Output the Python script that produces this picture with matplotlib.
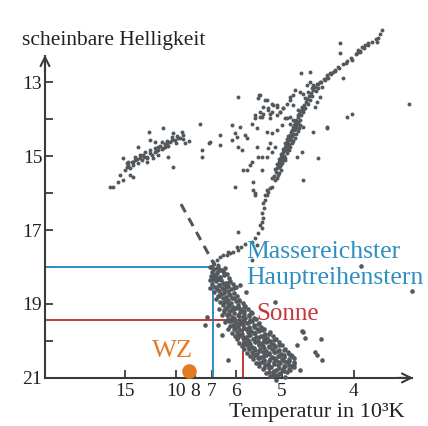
import numpy as np
import matplotlib
matplotlib.use("Agg")
import matplotlib.pyplot as plt

plt.rcParams['font.family'] = ['Liberation Serif', 'DejaVu Serif']

# temperature axis (10^3 K) and the position of each tick along the axis
temp_labels = ['15', '10', '8', '7', '6', '5', '4']
temp_pos = [125, 176, 195, 212, 236, 282, 354]
mag_ticks = [13, 14, 15, 16, 17, 18, 19, 20, 21]

# horizontal branch
hb_x = [162.7, 149.3, 200, 173.3, 181.7, 182.7, 178.3, 189.3, 185, 150, 155, 161.7, 166.7, 171.7,
        138.3, 158.3, 165, 155, 150, 146.7, 143.3, 140, 135, 131.7, 128.3, 123.3, 133.3, 126.7,
        125, 120, 123.3, 118.3, 113.3, 110, 133.3, 130, 168.3, 173.3, 153.3, 201.7, 201.7, 209.3,
        146.7, 138.3, 158.3, 135, 140, 145, 150, 155, 160, 165, 170, 175, 180, 158, 163, 168,
        147, 142, 152, 133, 128, 177, 172, 137, 144, 156, 162, 167, 176, 183, 130, 127]
hb_mag = [14.25, 14.34, 14.14, 14.37, 14.34, 14.43, 14.52, 14.59, 14.64, 14.57, 14.61, 14.61, 14.66, 14.57,
          14.75, 14.75, 14.75, 14.88, 14.93, 15.02, 14.97, 15.06, 15.11, 15.15, 15.15, 15.06, 15.24, 15.29,
          15.38, 15.51, 15.65, 15.69, 15.83, 15.83, 15.56, 15.51, 15.02, 15.29, 15.06, 14.84, 15.02, 14.64,
          15.15, 15.20, 14.97, 15.03, 14.97, 14.89, 14.84, 14.78, 14.73, 14.68, 14.62, 14.57, 14.51, 14.84, 14.78, 14.73,
          15.05, 15.11, 14.97, 15.16, 15.24, 14.46, 14.49, 15.08, 15.03, 14.86, 14.81, 14.59, 14.65, 14.54, 15.32, 15.19]

# red giant branch, scattered part
rgb_x = [381.7, 376.7, 378.3, 368.3, 365, 361.7, 358.3, 360, 356.7, 340, 340, 351.7, 346, 338.3, 335, 332.7,
         330, 326.7, 328.3, 325, 343.3, 310, 300.7, 320, 316.7, 313.3, 321.7, 318.3, 310, 306.7, 311.7,
         308.3, 303.3, 300, 295, 293.3, 290, 305, 310, 308.3, 316.7, 315, 320, 301.7, 303.3, 298.3, 293.3,
         290, 286.7, 283.3, 280, 276.7, 273.3, 276.7, 271.7, 268.3, 265, 259.3, 263.3, 260, 255, 270,
         346.7, 351.7, 303.3, 326.7, 298.3, 300, 296.7, 293.3, 290, 286.7,
         238.3, 260, 258.3, 266.7, 271.7, 276.7, 263.3, 268.3, 270, 260, 261.7, 255, 280, 283.3, 231.7,
         240, 251.7, 256.7, 266.7, 271.7, 276.7, 281.7, 285, 290, 220, 235, 236.7, 245, 246.7, 231.7,
         210, 220, 238.3, 241.7, 270, 268.3, 275, 256.7, 258.3, 261.7, 266.7, 271.7, 296.7, 301.7,
         313.3, 326.7, 318.3, 243.3, 246.7, 250, 251.7, 261.7, 271.7, 303.3, 235, 253.3, 266.7, 270,
         255, 265, 409]
rgb_mag = [11.59, 11.91, 11.81, 11.95, 12.00, 12.05, 12.14, 12.18, 12.22, 11.95, 12.22, 12.41, 12.49, 12.59, 12.68, 12.72,
           12.76, 12.81, 12.90, 12.95, 12.90, 12.72, 12.76, 12.99, 13.04, 13.08, 13.13, 13.17, 12.99, 13.08, 13.17,
           13.26, 13.31, 13.26, 13.22, 13.35, 13.40, 13.44, 13.49, 13.58, 13.53, 13.67, 13.40, 13.67, 13.76, 13.76, 13.62,
           13.49, 13.58, 13.71, 13.80, 13.89, 13.62, 13.67, 13.80, 13.71, 13.49, 13.35, 13.85, 13.94, 13.98, 13.98,
           13.94, 13.85, 14.21, 14.21, 13.89, 14.03, 14.12, 14.03, 14.12, 13.98,
           13.40, 13.35, 13.44, 13.49, 13.58, 13.62, 13.67, 13.76, 13.85, 13.80, 13.94, 13.89, 13.80, 13.71, 14.16,
           14.21, 14.12, 14.25, 14.34, 14.39, 14.30, 14.16, 13.98, 13.94, 14.43, 14.39, 14.49, 14.43, 14.52, 14.57,
           14.61, 14.70, 14.75, 14.84, 14.66, 14.79, 14.75, 14.75, 15.02, 15.02, 15.02, 14.88, 15.02, 14.88,
           14.34, 14.25, 15.06, 15.38, 15.38, 15.24, 15.15, 15.38, 15.60, 15.65, 15.83, 15.92, 15.92, 15.87,
           16.05, 16.05, 13.59]

# red giant branch, dense ridge
ridge_x = [276, 277, 278, 279, 280, 281, 282, 283, 284, 285, 286, 287, 288, 289, 290, 291, 292, 293, 294, 295,
           296, 298, 299, 300, 302, 304, 306, 307, 309, 311, 313, 315, 318, 321, 324, 327, 331, 335, 339, 343,
           347, 351, 356, 360, 364, 368, 372, 376, 380,
           278, 274, 280, 283, 286, 288, 290, 293, 296, 298, 281, 285, 279, 277, 275, 282, 287, 291, 294,
           284, 289, 292, 295, 297, 301, 303, 305, 312, 316,
           279, 281, 283, 285, 287, 289, 290, 292, 293, 295, 296, 298, 299, 300,
           275, 277, 279, 281, 283, 285, 287, 288]
ridge_mag = [15.43, 15.32, 15.24, 15.16, 15.11, 15.03, 14.97, 14.89, 14.84, 14.76, 14.70, 14.62, 14.57, 14.49, 14.43,
             14.35, 14.30, 14.22, 14.16, 14.08, 14.03, 13.95, 13.86, 13.78, 13.70, 13.62, 13.54, 13.46, 13.38, 13.30,
             13.22, 13.14, 13.05, 13.00, 12.92, 12.86, 12.78, 12.70, 12.62, 12.51, 12.43, 12.35, 12.24, 12.16, 12.08,
             12.00, 11.92, 11.84, 11.70,
             15.51, 15.54, 15.27, 15.05, 14.84, 14.70, 14.51, 14.41, 14.22, 14.08, 15.38, 15.11, 15.46, 15.59, 15.65,
             15.19, 14.78, 14.57, 14.30,
             15.00, 14.68, 14.46, 14.27, 14.14, 13.89, 13.81, 13.70, 13.38, 13.24,
             15.30, 15.22, 15.12, 15.04, 14.93, 14.83, 14.75, 14.66, 14.58, 14.50, 14.40, 14.33, 14.25, 14.16,
             15.35, 15.22, 15.08, 14.95, 14.80, 14.66, 14.55, 14.45]

# subgiant branch and turn-off
sgb_x = [253.3, 255, 266.7, 268.3, 271.7, 263.3, 261.7, 262.7, 260, 261.7, 238.3, 255, 251.7, 256.7, 236.7,
         238.3, 233.3, 230, 226.7, 223.3, 220, 216.7, 213.3, 218.3, 211.7, 216.7, 213.3, 220, 215, 221.7, 251.7,
         264, 265, 262, 258, 245, 241, 228, 214, 212, 217]
sgb_mag = [15.69, 16.01, 16.05, 15.96, 15.83, 16.28, 16.55, 16.68, 16.86, 16.95, 17.05, 17.22, 17.32, 17.41, 17.45,
           17.54, 17.59, 17.63, 17.68, 17.68, 17.72, 17.81, 17.86, 17.95, 18.04, 18.13, 18.22, 18.26, 18.31, 18.08, 17.81,
           16.41, 16.19, 16.78, 17.08, 17.38, 17.46, 17.59, 17.92, 17.97, 18.03]

# main sequence
ms_x = [210, 214, 218, 221, 225, 212, 217, 223, 227, 211, 215, 220, 224, 229, 213, 218,
        216, 221, 226, 230, 212, 219, 223, 228, 233, 215, 217, 222, 226, 231, 236,
        214, 219, 224, 228, 234, 218, 221, 226, 230, 237, 216, 223, 228, 232, 239, 220, 226, 231, 236, 243,
        223, 228, 233, 238, 245, 219, 226, 231, 236, 241, 248, 224, 229, 234, 240, 244, 251,
        222, 227, 232, 238, 243, 249, 228, 234, 239, 245, 250, 256,
        225, 231, 236, 241, 247, 252, 258, 230, 233, 238, 243, 249, 254, 261,
        228, 235, 240, 246, 251, 257, 263, 232, 237, 242, 248, 255, 259, 265, 270,
        235, 240, 246, 250, 256, 261, 267, 273, 237, 243, 248, 253, 258, 264, 270, 276,
        239, 245, 250, 255, 262, 266, 272, 279, 242, 247, 252, 259, 263, 269, 275, 282,
        244, 249, 255, 260, 266, 272, 278, 285, 247, 252, 257, 263, 269, 275, 281, 288,
        250, 255, 261, 266, 272, 278, 284, 291, 253, 258, 264, 270, 276, 282, 289,
        256, 262, 268, 274, 280, 287, 294, 259, 265, 271, 278, 285, 292,
        263, 269, 276, 283, 290, 266, 273, 280, 287, 270, 277, 285,
        302, 321, 317, 322, 292, 361, 412, 272, 276, 315, 303, 207, 218, 228, 222, 238, 240, 275,
        252, 205, 210, 210, 246, 297, 305, 300]
ms_mag = [18.01, 18.06, 17.99, 18.09, 18.03, 18.13, 18.16, 18.12, 18.18, 18.24, 18.21, 18.27, 18.23, 18.30, 18.33, 18.29,
          18.39, 18.36, 18.42, 18.37, 18.45, 18.48, 18.44, 18.51, 18.46, 18.55, 18.60, 18.57, 18.53, 18.59, 18.55,
          18.68, 18.64, 18.71, 18.66, 18.70, 18.78, 18.74, 18.81, 18.76, 18.79, 18.87, 18.84, 18.90, 18.85, 18.88,
          18.96, 18.93, 18.98, 18.92, 18.97,
          19.04, 19.01, 19.07, 19.02, 19.06, 19.13, 19.11, 19.16, 19.12, 19.17, 19.14, 19.22, 19.19, 19.25, 19.21,
          19.27, 19.23, 19.31, 19.29, 19.34, 19.30, 19.35, 19.32, 19.40, 19.38, 19.43, 19.39, 19.42, 19.40,
          19.49, 19.47, 19.52, 19.48, 19.51, 19.46, 19.53, 19.59, 19.56, 19.62, 19.58, 19.61, 19.57, 19.62,
          19.68, 19.66, 19.71, 19.67, 19.72, 19.68, 19.71, 19.78, 19.75, 19.80, 19.76, 19.79, 19.74, 19.80, 19.77,
          19.87, 19.84, 19.89, 19.85, 19.90, 19.86, 19.91, 19.86, 19.96, 19.93, 19.98, 19.94, 19.99, 19.95, 19.99, 19.94,
          20.05, 20.02, 20.07, 20.03, 20.06, 20.04, 20.08, 20.03, 20.14, 20.11, 20.16, 20.12, 20.15, 20.13, 20.17, 20.12,
          20.23, 20.20, 20.25, 20.21, 20.26, 20.22, 20.26, 20.21, 20.32, 20.29, 20.34, 20.30, 20.35, 20.31, 20.34, 20.30,
          20.41, 20.38, 20.43, 20.39, 20.44, 20.40, 20.43, 20.39, 20.50, 20.47, 20.52, 20.48, 20.51, 20.49, 20.53,
          20.59, 20.56, 20.61, 20.57, 20.60, 20.58, 20.61, 20.68, 20.65, 20.70, 20.66, 20.69, 20.67,
          20.77, 20.74, 20.79, 20.75, 20.78, 20.86, 20.83, 20.88, 20.84, 20.95, 20.92, 20.97,
          19.73, 19.95, 20.38, 20.51, 20.41, 17.97, 18.65, 20.95, 21.05, 20.30, 19.76, 19.35, 19.57, 20.51, 19.84, 19.89, 18.49, 18.95,
          19.24, 19.57, 18.57, 18.35, 18.68, 20.11, 19.92, 20.78]

# main sequence, further stars read column by column
ms2_x = [219, 219, 219, 219, 224, 224, 224, 224, 224, 229, 229, 229, 229, 229,
         234, 234, 234, 234, 234, 234, 239, 239, 239, 239, 239, 244, 244, 244, 244, 244, 244,
         249, 249, 249, 249, 249, 249, 254, 254, 254, 254, 254, 254,
         259, 259, 259, 259, 259, 259, 259, 264, 264, 264, 264, 264, 264, 264,
         269, 269, 269, 269, 269, 269, 269, 274, 274, 274, 274, 274, 274, 274,
         279, 279, 279, 279, 279, 279, 284, 284, 284, 284, 284, 289, 289, 289, 289, 294, 294, 294]
ms2_mag = [18.08, 18.33, 18.50, 18.79, 18.16, 18.47, 18.62, 18.95, 19.15, 18.40, 18.72, 19.05, 19.28, 19.46,
           18.58, 18.83, 19.14, 19.42, 19.60, 19.69, 18.91, 19.10, 19.33, 19.55, 19.83, 19.09, 19.20, 19.46, 19.66, 19.91, 20.08,
           19.30, 19.50, 19.64, 19.85, 20.04, 20.22, 19.37, 19.63, 19.78, 19.96, 20.18, 20.37,
           19.51, 19.70, 19.88, 20.09, 20.28, 20.45, 20.60, 19.69, 19.85, 20.01, 20.20, 20.41, 20.55, 20.72,
           19.82, 20.00, 20.17, 20.33, 20.53, 20.68, 20.83, 19.98, 20.12, 20.29, 20.47, 20.63, 20.80, 20.93,
           20.10, 20.25, 20.40, 20.58, 20.72, 20.89, 20.24, 20.37, 20.55, 20.67, 20.81, 20.36, 20.49, 20.64, 20.76,
           20.45, 20.58, 20.70]

# reference lines and the white dwarf
dash_x = [181, 214]
dash_mag = [16.30, 17.92]
massive_x, massive_mag = 213, 18.0
sun_x, sun_mag = 243, 19.44
wz_x, wz_mag = 189, 20.81

axis_col = '#3a3a3a'
star_col = '#53585d'
blue = '#2f8fc0'
red = '#c4373a'
orange = '#e07b24'

fig = plt.figure(figsize=(4.28, 4.26), dpi=100)
ax = fig.add_axes([0, 0, 1, 1])
ax.set_xlim(0, 428)
ax.set_ylim(22.30, 10.78)

for sx, sm in [(hb_x, hb_mag), (rgb_x, rgb_mag), (ridge_x, ridge_mag), (sgb_x, sgb_mag)]:
    ax.scatter(sx, sm, s=8, marker='o', color=star_col, linewidths=0, zorder=3)
ax.scatter(ms_x, ms_mag, s=11, marker='o', color=star_col, linewidths=0, zorder=3)
ax.scatter(ms2_x, ms2_mag, s=11, marker='o', color=star_col, linewidths=0, zorder=3)

ax.plot(dash_x, dash_mag, color='#555555', lw=2.2, ls=(0, (3, 2.2)), zorder=3)

ax.plot([45, massive_x, massive_x], [massive_mag, massive_mag, 21], color=blue, lw=1.4, zorder=2)
ax.plot([45, sun_x, sun_x], [sun_mag, sun_mag, 21], color=red, lw=1.4, zorder=2)
ax.scatter([wz_x], [wz_mag], s=110, color=orange, zorder=4, linewidths=0)

# axes with arrow heads
for s in ['top', 'right']:
    ax.spines[s].set_visible(False)
ax.spines['left'].set_position(('data', 45))
ax.spines['bottom'].set_position(('data', 21))
ax.spines['left'].set_bounds(21, 12.3)
ax.spines['bottom'].set_bounds(45, 412)
for s in ['left', 'bottom']:
    ax.spines[s].set_color(axis_col)
    ax.spines[s].set_linewidth(1.5)
ax.annotate('', xy=(45, 12.19), xytext=(45, 12.8),
            arrowprops=dict(arrowstyle='->', lw=1.5, color=axis_col, mutation_scale=16))
ax.annotate('', xy=(416, 21), xytext=(395, 21),
            arrowprops=dict(arrowstyle='->', lw=1.5, color=axis_col, mutation_scale=16))

ax.set_yticks(mag_ticks)
ax.set_yticklabels([str(m) if m % 2 else '' for m in mag_ticks])
ax.set_xticks(temp_pos)
ax.set_xticklabels(temp_labels)
ax.tick_params(axis='both', direction='in', length=6, width=1.3, color=axis_col,
               labelsize=14, labelcolor='#222222')
ax.tick_params(axis='y', pad=2)
ax.tick_params(axis='x', pad=4)

ax.text(22, 12.0, 'scheinbare Helligkeit', fontsize=15.5, color='#222222', va='baseline')
ax.text(229, 22.05, 'Temperatur in 10³K', fontsize=16, color='#222222', va='baseline')
ax.text(246, 17.75, 'Massereichster', fontsize=18.5, color=blue, va='baseline')
ax.text(246, 18.45, 'Hauptreihenstern', fontsize=18.5, color=blue, va='baseline')
ax.text(256, 19.43, 'Sonne', fontsize=18, color=red, va='baseline')
ax.text(152, 20.43, 'WZ', fontsize=19, color=orange, va='baseline')

fig.savefig('out.png', dpi=100)
